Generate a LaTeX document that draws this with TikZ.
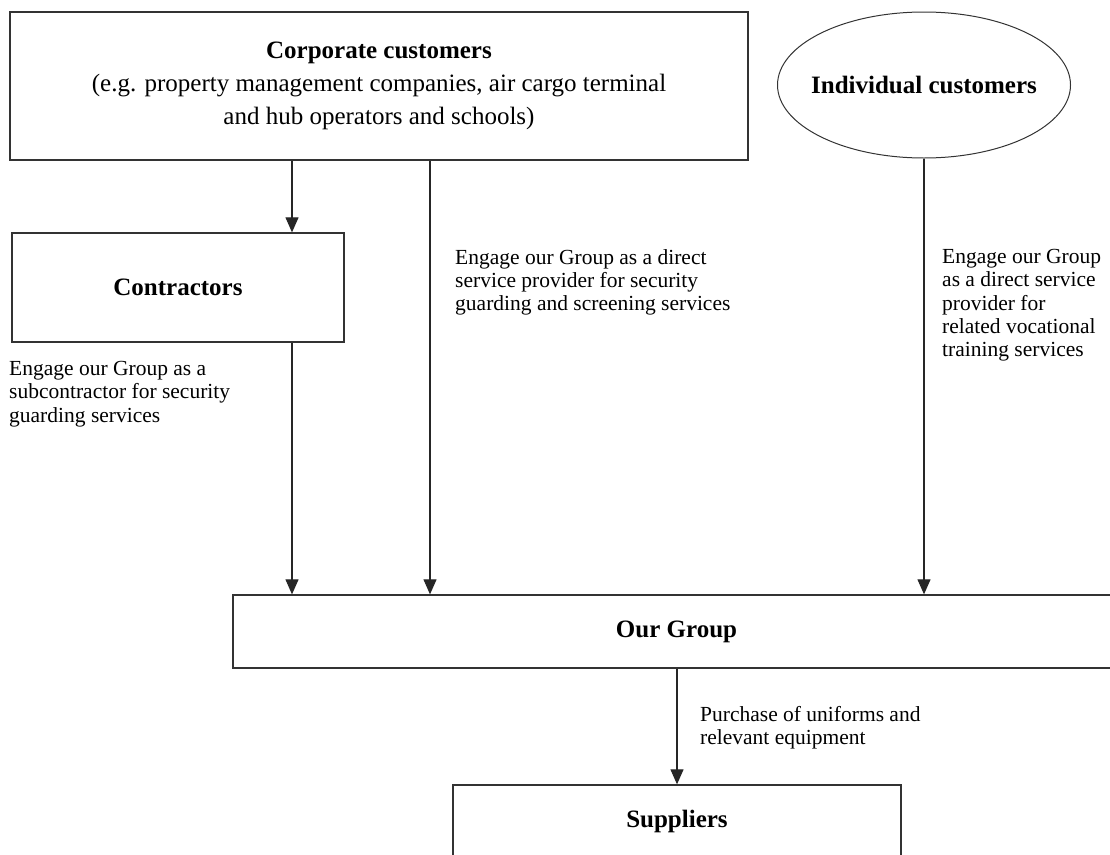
\documentclass[tikz,border=0pt]{standalone}
\usepackage{fontspec}
\setmainfont{Liberation Serif}
\usetikzlibrary{arrows.meta,shapes.geometric}
\begin{document}
\begin{tikzpicture}[
    x=1pt, y=-1pt,
    box/.style={draw=black!80, line width=1.3pt, inner sep=0pt, align=center,
      font=\fontsize{25}{33}\selectfont},
    oval/.style={box, ellipse, line width=1pt, inner xsep=-11pt},
    note/.style={anchor=north west, inner sep=0pt, align=left,
      font=\fontsize{21.5}{23.3}\selectfont},
    flow/.style={draw=black!85, line width=1.1pt, -{Triangle[length=15pt,width=13pt]}}
  ]
    \useasboundingbox (0,0) rectangle (1110,854);
    % customers
    \node[box, minimum width=738pt, minimum height=148pt] (corp) at (379,86)
      {\textbf{Corporate customers}\\(e.g. property management companies, air cargo terminal\\and hub operators and schools)};
    \node[oval, minimum width=293pt, minimum height=146pt] (indiv) at (924,85)
      {\textbf{Individual customers}};
    \node[box, minimum width=332pt, minimum height=109pt] (contr) at (178,287.5)
      {\textbf{Contractors}};
    % our group and suppliers
    \node[box, minimum width=887pt, minimum height=73pt] (group) at (676.5,631.5)
      {\textbf{Our Group}};
    \node[box, minimum width=448pt, minimum height=72pt] (supp) at (677,821)
      {\textbf{Suppliers}};
    % where the arrows run
    \coordinate (subx) at (292,0);
    \coordinate (directx) at (430,0);
    \draw[flow] (corp.south -| subx) -- (contr.north -| subx);
    \draw[flow] (contr.south -| subx) -- (group.north -| subx);
    \draw[flow] (corp.south -| directx) -- (group.north -| directx);
    \draw[flow] (indiv.south) -- (group.north -| indiv.south);
    \draw[flow] (group.south -| supp.north) -- (supp.north);
    % labels
    \node[note] (sublbl) at (9,361) {Engage our Group as a\\subcontractor for security\\guarding services};
    \node[note] (directlbl) at (455,249) {Engage our Group as a direct\\service provider for security\\guarding and screening services};
    \node[note] (traininglbl) at (942,249) {Engage our Group\\as a direct service\\provider for\\related vocational\\training services};
    \node[note] (buylbl) at (700,706) {Purchase of uniforms and\\relevant equipment};
\end{tikzpicture}
\end{document}
